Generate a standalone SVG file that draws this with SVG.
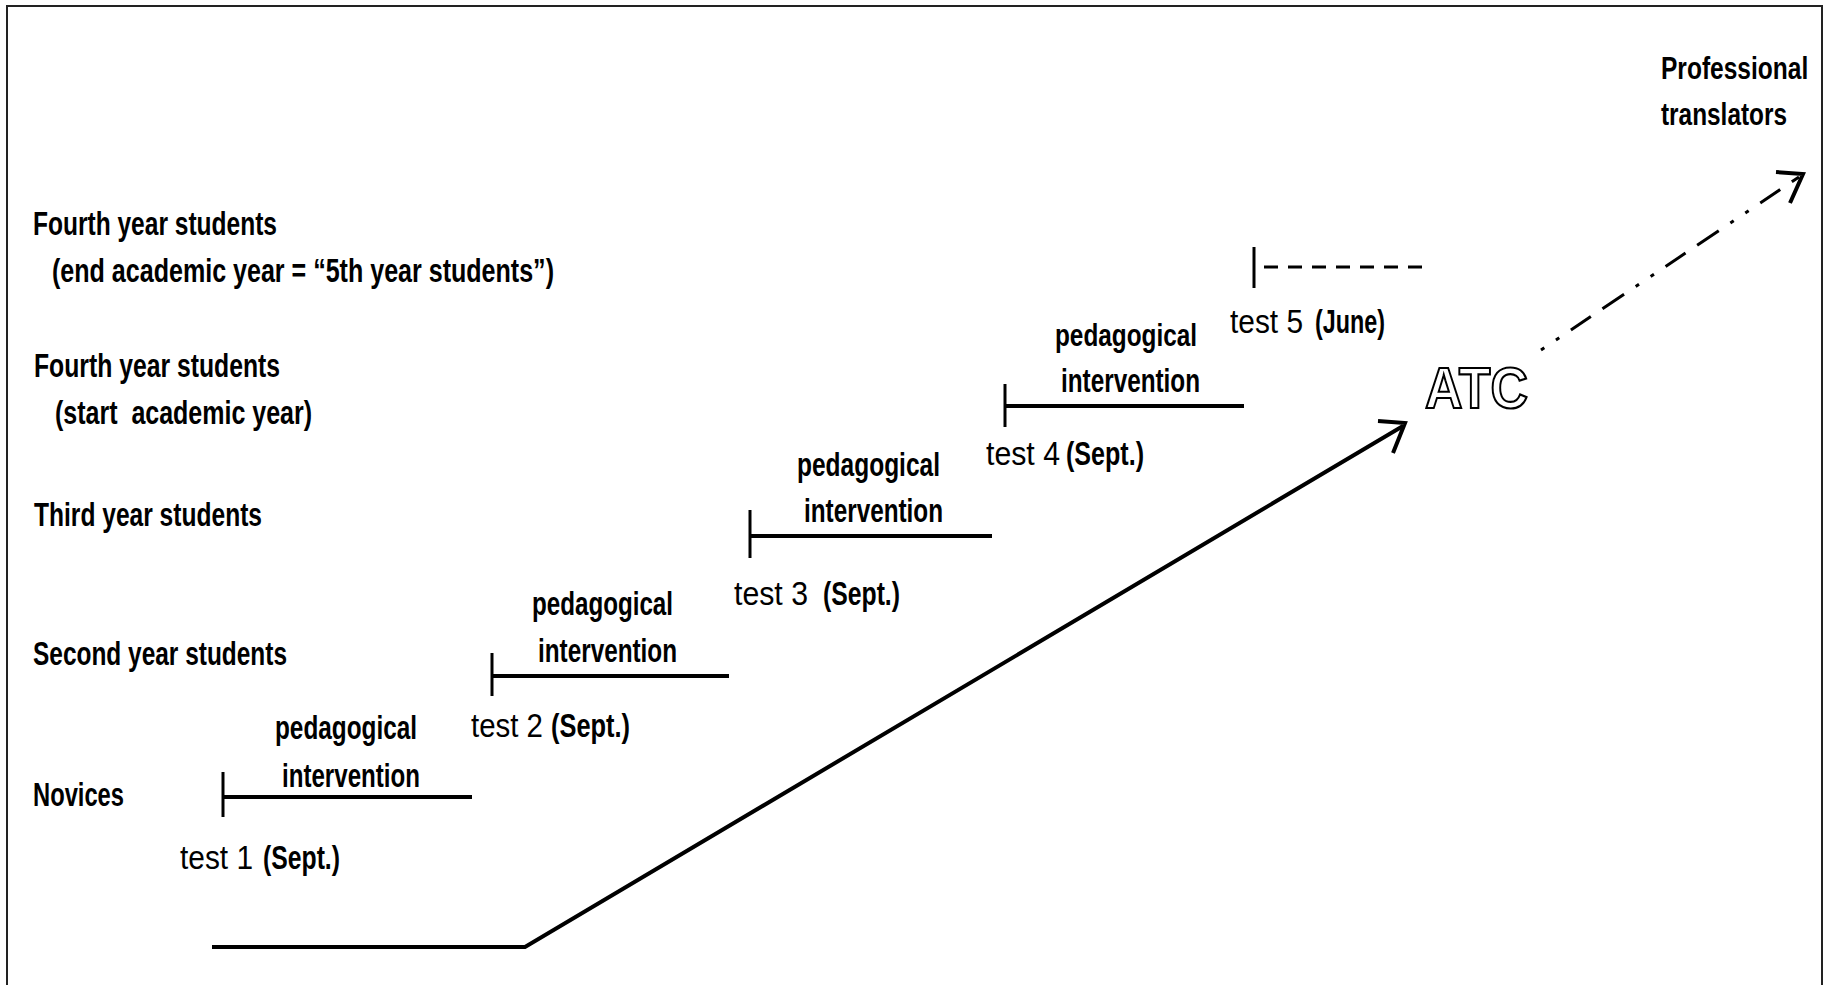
<svg xmlns="http://www.w3.org/2000/svg" width="1828" height="985" viewBox="0 0 1828 985">
<style>
text{font-family:"Liberation Sans Narrow","Liberation Sans",Arial,sans-serif;font-size:34px;font-weight:bold;fill:#000}
.lt{font-weight:normal}
.sm{font-size:31px}
.ln{stroke:#000;stroke-width:4;fill:none;stroke-linecap:butt}
.tk{stroke:#000;stroke-width:3;fill:none}
.atc{font-family:"Liberation Sans",Arial,sans-serif;font-size:58px;font-weight:bold;fill:#fff;stroke:#000;stroke-width:2.2}
</style>
<rect width="1828" height="985" fill="#fff"/>
<path d="M7,985 V6 H1822 V985" fill="none" stroke="#222" stroke-width="2"/>

<g id="labels">
<g id="level-4end"><text x="33" y="235" textLength="244" lengthAdjust="spacingAndGlyphs">Fourth year students</text>
<text x="52" y="282" textLength="502" lengthAdjust="spacingAndGlyphs">(end academic year = “5th year students”)</text></g>
<g id="level-4start"><text x="34" y="377" textLength="246" lengthAdjust="spacingAndGlyphs">Fourth year students</text>
<text x="55" y="424" textLength="257" lengthAdjust="spacingAndGlyphs" xml:space="preserve">(start  academic year)</text></g>
<g id="level-3"><text x="34" y="526" textLength="228" lengthAdjust="spacingAndGlyphs">Third year students</text></g>
<g id="level-2"><text x="33" y="665" textLength="254" lengthAdjust="spacingAndGlyphs">Second year students</text></g>
<g id="level-1"><text x="33" y="806" textLength="91" lengthAdjust="spacingAndGlyphs">Novices</text></g>
<g id="professional"><text class="sm" transform="translate(1661,79) scale(0.8,1)" x="0" y="0" textLength="184" lengthAdjust="spacingAndGlyphs">Professional</text>
<text class="sm" x="1661" y="125" textLength="126" lengthAdjust="spacingAndGlyphs">translators</text></g>
<g id="atc"><text class="atc" x="1425" y="408" textLength="103" lengthAdjust="spacingAndGlyphs">ATC</text></g>
</g>

<g id="stage1">
<line class="tk" x1="223" y1="772" x2="223" y2="817"/>
<line class="ln" x1="223" y1="797" x2="472" y2="797"/>
<text x="275" y="739" textLength="142" lengthAdjust="spacingAndGlyphs">pedagogical</text>
<text x="282" y="787" textLength="138" lengthAdjust="spacingAndGlyphs">intervention</text>
<text class="lt" x="180" y="869" textLength="73" lengthAdjust="spacingAndGlyphs">test 1</text>
<text x="263" y="869" textLength="77" lengthAdjust="spacingAndGlyphs">(Sept.)</text>
</g>
<g id="stage2">
<line class="tk" x1="492" y1="653" x2="492" y2="696"/>
<line class="ln" x1="492" y1="676" x2="729" y2="676"/>
<text x="532" y="615" textLength="141" lengthAdjust="spacingAndGlyphs">pedagogical</text>
<text x="538" y="662" textLength="139" lengthAdjust="spacingAndGlyphs">intervention</text>
<text class="lt" x="471" y="737" textLength="72" lengthAdjust="spacingAndGlyphs">test 2</text>
<text x="551" y="737" textLength="79" lengthAdjust="spacingAndGlyphs">(Sept.)</text>
</g>
<g id="stage3">
<line class="tk" x1="750" y1="510" x2="750" y2="558"/>
<line class="ln" x1="750" y1="536" x2="992" y2="536"/>
<text x="797" y="476" textLength="143" lengthAdjust="spacingAndGlyphs">pedagogical</text>
<text x="804" y="522" textLength="139" lengthAdjust="spacingAndGlyphs">intervention</text>
<text class="lt" x="734" y="605" textLength="74" lengthAdjust="spacingAndGlyphs">test 3</text>
<text x="823" y="605" textLength="77" lengthAdjust="spacingAndGlyphs">(Sept.)</text>
</g>
<g id="stage4">
<line class="tk" x1="1005" y1="384" x2="1005" y2="427"/>
<line class="ln" x1="1005" y1="406" x2="1244" y2="406"/>
<text class="sm" x="1055" y="346" textLength="142" lengthAdjust="spacingAndGlyphs">pedagogical</text>
<text x="1061" y="392" textLength="139" lengthAdjust="spacingAndGlyphs">intervention</text>
<text class="lt" x="986" y="465" textLength="74" lengthAdjust="spacingAndGlyphs">test 4</text>
<text x="1066" y="465" textLength="78" lengthAdjust="spacingAndGlyphs">(Sept.)</text>
</g>
<g id="stage5">
<line class="tk" x1="1254" y1="247" x2="1254" y2="288"/>
<line class="tk" x1="1264" y1="267" x2="1425" y2="267" stroke-dasharray="14 10"/>
<text class="lt" x="1230" y="333" textLength="73" lengthAdjust="spacingAndGlyphs">test 5</text>
<text x="1315" y="333" textLength="70" lengthAdjust="spacingAndGlyphs">(June)</text>
</g>

<g id="connectors">
<polyline class="ln" points="212,947 525,947 1403,426"/>
<polyline class="ln" points="1378,421 1405,423 1393,453"/>
<line class="tk" x1="1541" y1="350" x2="1799" y2="177" stroke-dasharray="4 14 4 14 24 14 26 14" stroke-width="3.5"/>
<polyline class="ln" points="1776,172 1803,174 1790,203"/>
</g>
</svg>
